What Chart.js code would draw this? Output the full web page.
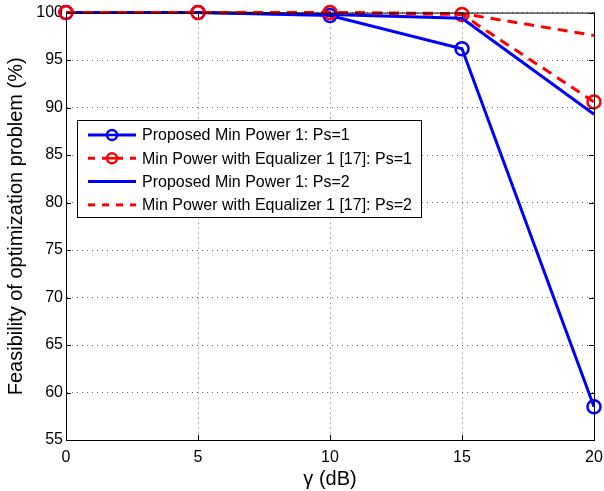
<!DOCTYPE html>
<html>
<head>
<meta charset="utf-8">
<script src="https://cdn.jsdelivr.net/npm/chart.js@4/dist/chart.umd.min.js"></script>
<style>
  html, body { margin: 0; padding: 0; background: #fff; }
  #wrap { width: 604px; height: 491px; }
</style>
</head>
<body>
<div id="wrap"><canvas id="feasibility"></canvas></div>
<script>
var gammaDb = [0, 5, 10, 15, 20];
var proposedPs1 = [100, 100, 99.7, 96.2, 58.5];
var equalizerPs1 = [100, 100, 100, 99.8, 90.6];
var proposedPs2 = [100, 100, 99.8, 99.4, 89.3];
var equalizerPs2 = [100, 100, 100, 99.9, 97.6];
var yTicks = [55, 60, 65, 70, 75, 80, 85, 90, 95, 100];
var xTicks = [0, 5, 10, 15, 20];

var FONT = "'Liberation Sans', Arial, sans-serif";

function toPoints(ys) {
    return gammaDb.map(function(x, i) { return { x: x, y: ys[i] }; });
}

var datasets = [
    {
        label: "Proposed Min Power 1: Ps=1",
        data: toPoints(proposedPs1),
        borderColor: "#0000ff",
        borderWidth: 3,
        pointRadius: 6.5,
        pointBorderWidth: 2.5,
        pointBorderColor: "#0000ff",
        pointBackgroundColor: "rgba(0,0,0,0)",
        order: 4
    },
    {
        label: "Min Power with Equalizer 1 [17]: Ps=1",
        data: toPoints(equalizerPs1),
        borderColor: "#ff0000",
        borderWidth: 3,
        borderDash: [10, 7],
        pointRadius: 6.5,
        pointBorderWidth: 2.5,
        pointBorderColor: "#ff0000",
        pointBackgroundColor: "rgba(0,0,0,0)",
        order: 3
    },
    {
        label: "Proposed Min Power 1: Ps=2",
        data: toPoints(proposedPs2),
        borderColor: "#0000ff",
        borderWidth: 3,
        pointRadius: 0,
        order: 2
    },
    {
        label: "Min Power with Equalizer 1 [17]: Ps=2",
        data: toPoints(equalizerPs2),
        borderColor: "#ff0000",
        borderWidth: 3,
        borderDash: [10, 7],
        pointRadius: 0,
        order: 1
    }
];

// box, inward ticks and the legend drawn like the matlab figure
var matlabFrame = {
    id: "matlabFrame",
    afterDraw: function(chart) {
        var ctx = chart.ctx;
        var a = chart.chartArea;
        var xs = chart.scales.x, ys = chart.scales.y;
        ctx.save();
        ctx.strokeStyle = "#000";
        ctx.lineWidth = 1;
        ctx.strokeRect(a.left + 0.5, a.top + 0.5, a.right - a.left, a.bottom - a.top);
        ctx.beginPath();
        xTicks.forEach(function(v) {
            var px = Math.round(xs.getPixelForValue(v)) + 0.5;
            ctx.moveTo(px, a.bottom); ctx.lineTo(px, a.bottom - 5);
            ctx.moveTo(px, a.top); ctx.lineTo(px, a.top + 5);
        });
        yTicks.forEach(function(v) {
            var py = Math.round(ys.getPixelForValue(v)) + 0.5;
            ctx.moveTo(a.left, py); ctx.lineTo(a.left + 5, py);
            ctx.moveTo(a.right, py); ctx.lineTo(a.right - 5, py);
        });
        ctx.stroke();

        // legend
        var bx = 77, by = 120, bw = 344, bh = 97;
        ctx.fillStyle = "#fff";
        ctx.fillRect(bx, by, bw, bh);
        ctx.strokeStyle = "#000";
        ctx.strokeRect(bx + 0.5, by + 0.5, bw, bh);
        ctx.font = "16px " + FONT;
        ctx.textBaseline = "middle";
        ctx.textAlign = "left";
        chart.data.datasets.forEach(function(ds, i) {
            var y = 135 + i * 23.3;
            ctx.strokeStyle = ds.borderColor;
            ctx.lineWidth = ds.borderWidth;
            ctx.setLineDash(ds.borderDash ? [7, 7] : []);
            ctx.beginPath();
            ctx.moveTo(88, y); ctx.lineTo(136, y);
            ctx.stroke();
            ctx.setLineDash([]);
            if (ds.pointRadius > 0) {
                ctx.fillStyle = "#fff";
                ctx.lineWidth = ds.pointBorderWidth;
                ctx.beginPath();
                ctx.arc(112, y, 5, 0, Math.PI * 2);
                ctx.fill();
                ctx.stroke();
                ctx.beginPath();
                ctx.moveTo(107, y); ctx.lineTo(117, y);
                ctx.stroke();
            }
            ctx.fillStyle = "#000";
            ctx.fillText(ds.label, 142, y + 1);
        });
        ctx.restore();
    }
};

var ctx = document.getElementById("feasibility");
new Chart(ctx, {
    type: "line",
    data: { datasets: datasets },
    plugins: [matlabFrame],
    options: {
        responsive: true,
        maintainAspectRatio: false,
        animation: false,
        events: [],
        clip: false,
        layout: { autoPadding: false, padding: { top: 11, right: 0, left: 0, bottom: 0 } },
        plugins: { legend: { display: false }, tooltip: { enabled: false } },
        scales: {
            x: {
                type: "linear",
                min: 0,
                max: 20,
                afterBuildTicks: function(scale) {
                    scale.ticks = xTicks.map(function(v) { return { value: v }; });
                },
                afterFit: function(scale) {
                    scale.height = 51;
                    scale.paddingRight = 10;
                    scale.paddingLeft = 0;
                },
                grid: {
                    color: "rgba(0,0,0,0.6)",
                    lineWidth: 1,
                    drawTicks: false
                },
                border: { display: true, color: "#000", width: 1, dash: [1, 4] },
                ticks: {
                    color: "#000",
                    padding: 8,
                    font: { family: FONT, size: 16 }
                },
                title: {
                    display: true,
                    text: "γ (dB)",
                    color: "#000",
                    padding: { top: 0, bottom: 0 },
                    font: { family: FONT, size: 20 }
                }
            },
            y: {
                type: "linear",
                min: 55,
                max: 100,
                afterBuildTicks: function(scale) {
                    scale.ticks = yTicks.map(function(v) { return { value: v }; });
                },
                afterFit: function(scale) { scale.width = 66; },
                grid: {
                    color: "rgba(0,0,0,0.6)",
                    lineWidth: 1,
                    drawTicks: false
                },
                border: { display: true, color: "#000", width: 1, dash: [1, 4] },
                ticks: {
                    color: "#000",
                    padding: 3,
                    font: { family: FONT, size: 16 }
                },
                title: {
                    display: true,
                    text: "Feasibility of optimization problem (%)",
                    color: "#000",
                    padding: { top: 4, bottom: 0 },
                    font: { family: FONT, size: 20 }
                }
            }
        }
    }
});
</script>
</body>
</html>
